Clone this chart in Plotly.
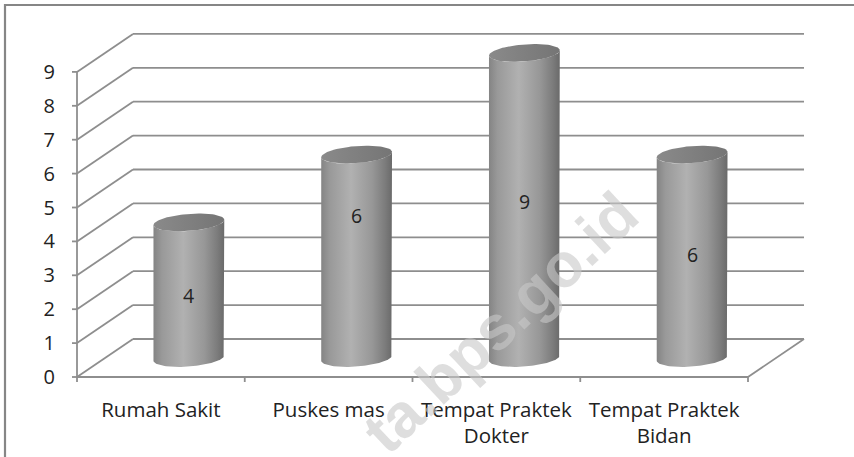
import numpy as np
import plotly.graph_objects as go

# ---- data ----
categories = ["Rumah Sakit", "Puskes mas", "Tempat Praktek<br>Dokter", "Tempat Praktek<br>Bidan"]
values = [4, 6, 9, 6]
y_ticks = [0, 1, 2, 3, 4, 5, 6, 7, 8, 9]
label_text = ["4", "6", "9", "6"]
label_pos = [2.39, 4.75, 5.19, 3.6]   # value-axis position of each data label

# ---- geometry (pixel scale helpers, in window pixels) ----
W, H = 854, 457
PXX, PXY = 167.75, 33.9          # px per category unit / per value unit
ORX, ORY = 77, 377               # pixel of front-left floor corner (-0.5, 0)
L, R, T, B = 60, 815, 28, 395    # plot area in pixels
xr = [-0.5 - (ORX - L) / PXX, -0.5 + (R - ORX) / PXX]
yr = [-(B - ORY) / PXY, (ORY - T) / PXY]
DX, DY = 56 / PXX, 38 / PXY      # depth offset
ELL_A, ELL_B = 35.5, 8.5         # ellipse semi-axes in px
TILT = np.deg2rad(4.5)

GRID = "#8e8e8e"
TXT = "#222222"
FONT = "Open Sans"

def ellipse_pts(cx, cy, t):
    ex = ELL_A * np.cos(t)
    ey = ELL_B * np.sin(t)            # y down (pixel sense)
    xr_ = ex * np.cos(TILT) + ey * np.sin(TILT)
    yr_ = -ex * np.sin(TILT) + ey * np.cos(TILT)
    return cx + xr_ / PXX, cy - yr_ / PXY

fig = go.Figure()

shapes = []
top_v = max(y_ticks)
n = len(categories)
gl = dict(color=GRID, width=1.8)
for v in y_ticks:
    shapes.append(dict(type="line", xref="x", yref="y", x0=-0.5, y0=v, x1=-0.5 + DX, y1=v + DY,
                       line=gl, layer="below"))
    shapes.append(dict(type="line", xref="x", yref="y", x0=-0.5 + DX, y0=v + DY,
                       x1=n - 0.5 + DX, y1=v + DY, line=gl, layer="below"))
shapes.append(dict(type="line", xref="x", yref="y", x0=-0.5, y0=0, x1=n - 0.5, y1=0,
                   line=gl, layer="below"))
shapes.append(dict(type="line", xref="x", yref="y", x0=n - 0.5, y0=0, x1=n - 0.5 + DX, y1=DY,
                   line=gl, layer="below"))
shapes.append(dict(type="line", xref="x", yref="y", x0=-0.5, y0=0, x1=-0.5, y1=top_v,
                   line=gl, layer="below"))
for v in y_ticks:
    shapes.append(dict(type="line", xref="x", yref="y", x0=-0.5 - 5 / PXX, y0=v, x1=-0.5, y1=v,
                       line=gl, layer="below"))
for k in range(n + 1):
    shapes.append(dict(type="line", xref="x", yref="y", x0=k - 0.5, y0=0, x1=k - 0.5, y1=-5 / PXY,
                       line=gl, layer="below"))
# outer frame
shapes.append(dict(type="rect", xref="paper", yref="paper",
                   x0=(5 - L) / (R - L), y0=(B - 480) / (B - T),
                   x1=(880 - L) / (R - L), y1=(B - 5) / (B - T),
                   line=dict(color="#868686", width=2.2), layer="below"))

body_cs = [[0, "#848484"], [0.12, "#999999"], [0.42, "#b1b1b1"], [0.72, "#979797"], [0.9, "#7c7c7c"], [1, "#6a6a6a"]]
top_cs = [[0, "#8a8a8a"], [1, "#757575"]]

for i, v in enumerate(values):
    cx = i + DX / 2
    cy_top = v + DY / 2
    cy_bot = DY / 2
    t1 = np.linspace(np.pi, 0, 60)
    t2 = np.linspace(0, np.pi, 60)
    xt, yt = ellipse_pts(cx, cy_top, t1)
    xb, yb = ellipse_pts(cx, cy_bot, t2)
    xs = np.concatenate([xt, xb, xt[:1]])
    ys = np.concatenate([yt, yb, yt[:1]])
    fig.add_trace(go.Scatter(x=xs, y=ys, mode="lines", fill="toself",
                             fillgradient=dict(type="horizontal", colorscale=body_cs),
                             line=dict(width=0, color="rgba(0,0,0,0)"),
                             hoverinfo="skip", showlegend=False))
    tt = np.linspace(0, 2 * np.pi, 100)
    xe, ye = ellipse_pts(cx, cy_top, tt)
    fig.add_trace(go.Scatter(x=xe, y=ye, mode="lines", fill="toself",
                             fillgradient=dict(type="horizontal", colorscale=top_cs),
                             line=dict(width=0, color="rgba(0,0,0,0)"),
                             hoverinfo="skip", showlegend=False))

annotations = []
for i, (t, p) in enumerate(zip(label_text, label_pos)):
    annotations.append(dict(x=i + DX / 2, y=p, xref="x", yref="y", text=t, showarrow=False,
                            font=dict(family=FONT, size=19.5, color=TXT)))
# watermark
annotations.append(dict(x=-0.5 + (500 - ORX) / PXX, y=(ORY - 322) / PXY, xref="x", yref="y",
                        text="<b>ta.bps.go.id</b>", showarrow=False, textangle=-43,
                        font=dict(family="Liberation Sans", size=62, color="rgba(200,200,200,0.6)")))

fig.update_layout(
    width=W, height=H,
    margin=dict(l=L, r=W - R, t=T, b=H - B, pad=0, autoexpand=False),
    paper_bgcolor="white", plot_bgcolor="white",
    shapes=shapes, annotations=annotations, showlegend=False,
    xaxis=dict(range=xr, showgrid=False, zeroline=False, showline=False, ticks="", automargin=False,
               tickmode="array", tickvals=list(range(n)), ticktext=categories,
               tickfont=dict(family=FONT, size=20.5, color=TXT), ticklabelstandoff=0, fixedrange=True),
    yaxis=dict(range=yr, showgrid=False, zeroline=False, showline=False, ticks="", automargin=False,
               tickmode="array", tickvals=y_ticks, ticktext=[str(v) for v in y_ticks],
               tickfont=dict(family=FONT, size=20, color=TXT), ticklabelstandoff=4, fixedrange=True),
)

fig.write_html("out.html", config={"displayModeBar": False},
               post_script="document.body.style.margin='0';")
